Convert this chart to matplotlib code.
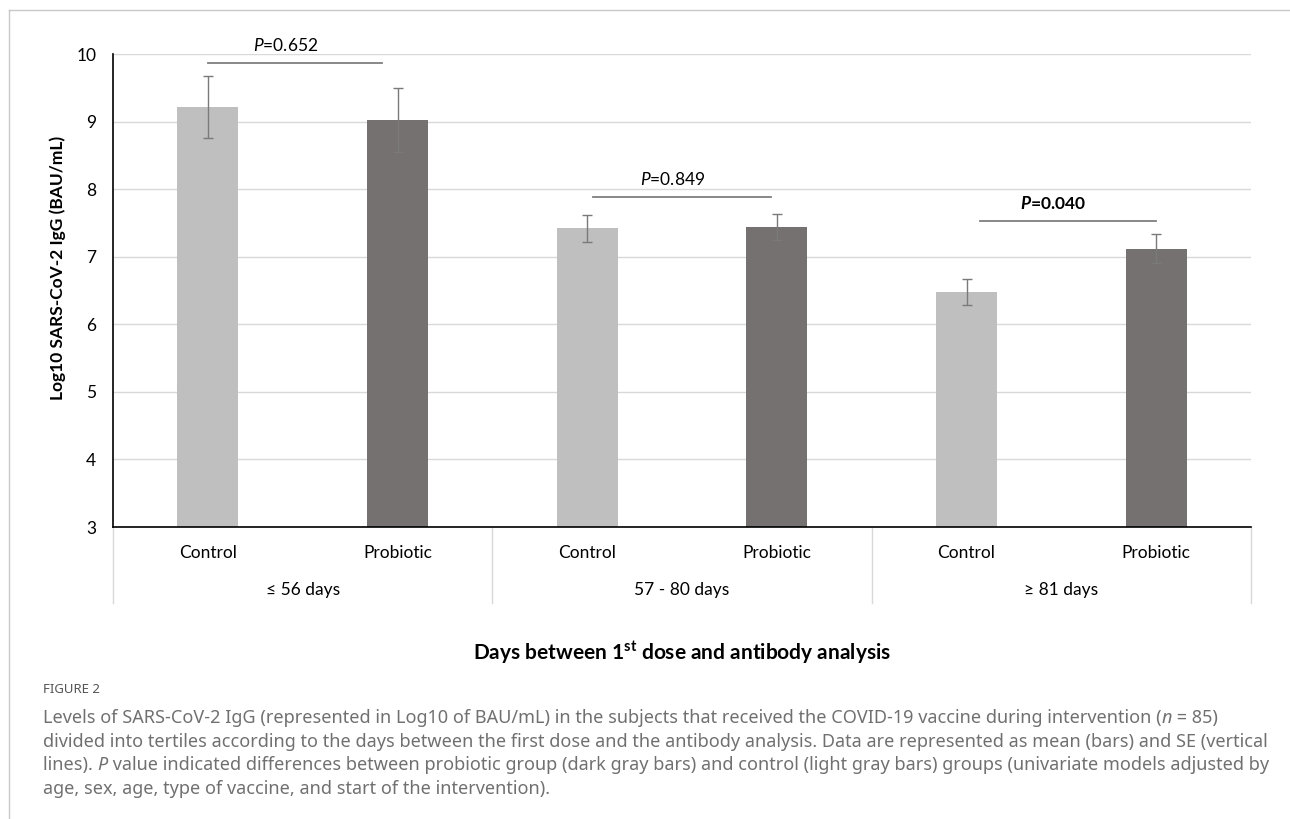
import numpy as np
import matplotlib
matplotlib.use("Agg")
import matplotlib.pyplot as plt
import matplotlib.transforms as mtransforms
from matplotlib.lines import Line2D

# data
groups = ["\u2264 56 days", "57 - 80 days", "\u2265 81 days"]
arms = ["Control", "Probiotic"]
control_mean = [9.21, 7.42, 6.48]
control_se = [0.46, 0.20, 0.19]
probiotic_mean = [9.02, 7.44, 7.12]
probiotic_se = [0.47, 0.19, 0.21]
p_labels = ["0.652", "0.849", "0.040"]
p_bold = [False, False, True]
p_line_y = [9.87, 7.88, 7.53]

plt.rcParams["font.family"] = ["Lato", "DejaVu Sans"]
plt.rcParams["mathtext.fontset"] = "custom"
plt.rcParams["mathtext.rm"] = "Lato"
plt.rcParams["mathtext.it"] = "Lato:italic"
plt.rcParams["mathtext.bf"] = "Lato:bold"
try:
    plt.rcParams["mathtext.bfit"] = "Lato:bold:italic"
except KeyError:
    pass

W, H = 1290, 819
fig = plt.figure(figsize=(W/100, H/100), dpi=100)
ax = fig.add_axes([113/W, 1-527/H, (1251-113)/W, (527-54)/H])

light = "#BFBFBF"
dark = "#767171"
x_ctrl = np.arange(3)*2
x_prob = np.arange(3)*2 + 1
bw = 0.32
ax.bar(x_ctrl, control_mean, bw, color=light, zorder=2)
ax.bar(x_prob, probiotic_mean, bw, color=dark, zorder=2)
ax.errorbar(x_ctrl, control_mean, yerr=control_se, fmt="none", ecolor="#7a7a7a",
            elinewidth=1, capsize=3.5, capthick=1, zorder=3)
ax.errorbar(x_prob, probiotic_mean, yerr=probiotic_se, fmt="none", ecolor="#7a7a7a",
            elinewidth=1, capsize=3.5, capthick=1, zorder=3)

ax.set_xlim(-0.5, 5.5)
ax.set_ylim(3, 10)
ax.set_yticks(range(3, 11))
ax.yaxis.grid(True, color="#D9D9D9", lw=1)
ax.set_axisbelow(True)
for s in ["top", "right"]:
    ax.spines[s].set_visible(False)
ax.spines["left"].set_color("black")
ax.spines["bottom"].set_color("black")
ax.spines["left"].set_linewidth(1.2)
ax.spines["bottom"].set_linewidth(1.2)
ax.tick_params(axis="y", length=0, pad=12, labelsize=12.5)
ax.set_xticks(list(range(6)))
ax.set_xticklabels(arms*3, fontsize=12.5)
ax.tick_params(axis="x", length=0, pad=13)

# significance brackets
for i in range(3):
    x0 = x_ctrl[i] + [0.0, 0.03, 0.07][i]
    x1 = x_prob[i] - [0.08, 0.03, 0.0][i]
    ax.plot([x0, x1], [p_line_y[i]]*2, color="#7f7f7f", lw=1.3, zorder=4, clip_on=False)
    xm = (x0 + x1)/2 - 0.05
    if p_bold[i]:
        ax.text(xm - 0.03, p_line_y[i] + 0.13, r"$\mathbfit{P}$=" + p_labels[i], ha="center",
                va="bottom", fontsize=12.5, fontweight="bold")
    else:
        ax.text(xm, p_line_y[i] + 0.13, r"$\mathit{P}$=" + p_labels[i], ha="center", va="bottom",
                fontsize=12.5)

# group labels and separators below axis
trans = mtransforms.blended_transform_factory(ax.transData, fig.transFigure)
for i, g in enumerate(groups):
    ax.text(2*i + 0.5, 1-590/H, g, transform=trans, ha="center", va="center", fontsize=12.5)
for xs in [-0.5, 1.5, 3.5, 5.5]:
    ax.add_line(Line2D([xs, xs], [1-527/H, 1-603/H], transform=trans, color="#D9D9D9",
                       lw=1, clip_on=False))

ax.set_ylabel("Log10 SARS-CoV-2 IgG (BAU/mL)", fontsize=12.5, fontweight="bold")
ax.yaxis.set_label_coords(-(113-66)/(1251-113), (527-268)/(527-54))
fig.text(682/W, 1-653/H, r"Days between 1$^{\mathbf{st}}$ dose and antibody analysis",
         ha="center", va="center", fontsize=15, fontweight="bold")

# outer frame
fig.add_artist(Line2D([9/W, 1], [1-10/H, 1-10/H], color="#C8C8C8", lw=1))
fig.add_artist(Line2D([9/W, 9/W], [0, 1-10/H], color="#C8C8C8", lw=1))

# caption
cap_font = ["Noto Sans", "DejaVu Sans"]
cap_col = "#707070"
fig.text(43/W, 1-693/H, "FIGURE 2", ha="left", va="baseline", fontsize=9.5, color="#555555",
         family=cap_font, fontweight="semibold")

def caption_line(y, parts, size=13):
    prev = None
    for txt, it in parts:
        style = "italic" if it else "normal"
        if prev is None:
            prev = fig.text(43/W, 1-y/H, txt, ha="left", va="baseline", fontsize=size,
                            color=cap_col, family=cap_font, style=style, fontweight=300)
        else:
            prev = ax.annotate(txt, xy=(1, 0), xycoords=prev, ha="left", va="bottom",
                               fontsize=size, color=cap_col, family=cap_font, style=style,
                               fontweight=300, annotation_clip=False)

caption_line(723, [("Levels of SARS-CoV-2 IgG (represented in Log10 of BAU/mL) in the subjects that received the COVID-19 vaccine during intervention (", False),
                   ("n", True), (" = 85)", False)])
caption_line(747, [("divided into tertiles according to the days between the first dose and the antibody analysis. Data are represented as mean (bars) and SE (vertical", False)])
caption_line(770, [("lines). ", False), ("P", True),
                   (" value indicated differences between probiotic group (dark gray bars) and control (light gray bars) groups (univariate models adjusted by", False)])
caption_line(794, [("age, sex, age, type of vaccine, and start of the intervention).", False)])

fig.savefig("out.png", dpi=100)
